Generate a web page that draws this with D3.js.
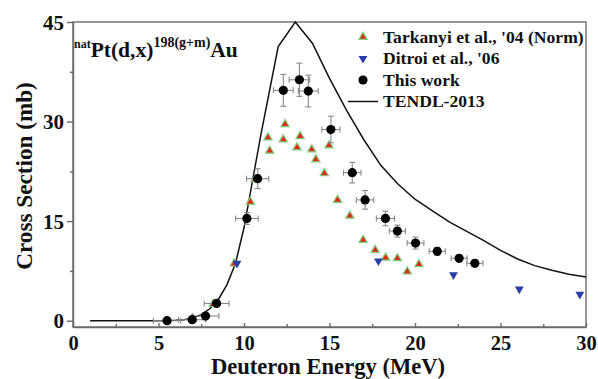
<!DOCTYPE html>
<html>
<head>
<meta charset="utf-8">
<script src="https://cdnjs.cloudflare.com/ajax/libs/d3/7.8.5/d3.min.js"></script>
<style>
  body { margin: 0; background: #fff; }
  svg { display: block; font-family: "Liberation Serif", "Times New Roman", serif; font-weight: bold; }
</style>
</head>
<body>
<div id="chart"></div>
<script>
// This work: energy, cross section, energy error, cross section error
const workE   = [5.5, 6.97, 7.75, 8.4, 10.17, 10.8, 12.3, 13.24, 13.76, 15.08, 16.33, 17.08, 18.27, 18.97, 20.03, 21.3, 22.58, 23.5];
const workXS  = [0.0, 0.15, 0.7, 2.6, 15.4, 21.4, 34.7, 36.3, 34.6, 28.8, 22.3, 18.2, 15.4, 13.5, 11.7, 10.45, 9.4, 8.64];
const workDE  = [0.8, 0.8, 0.78, 0.73, 0.66, 0.65, 0.58, 0.6, 0.58, 0.53, 0.51, 0.51, 0.53, 0.47, 0.49, 0.47, 0.47, 0.47];
const workDXS = [0.2, 0.2, 0.3, 0.4, 0.9, 1.5, 2.4, 2.5, 2.4, 2.0, 1.55, 1.4, 1.1, 0.9, 0.9, 0.6, 0.5, 0.5];

// Tarkanyi et al., '04 (Norm)
const tarE  = [7.0, 8.2, 9.43, 10.37, 10.65, 11.4, 11.5, 12.3, 12.4, 13.1, 13.28, 13.96, 14.2, 14.7, 14.97, 15.47, 16.19, 16.97, 17.67, 18.28, 18.97, 19.55, 20.23];
const tarXS = [0.3, 2.5, 8.6, 17.9, 21.3, 27.6, 25.6, 27.3, 29.6, 26.1, 27.8, 25.8, 24.3, 22.2, 26.4, 18.2, 15.8, 12.15, 10.65, 9.5, 9.4, 7.4, 8.5];

// Ditroi et al., '06
const ditE  = [9.59, 17.86, 22.25, 26.1, 29.64];
const ditXS = [8.64, 9.0, 6.9, 4.77, 3.97];

// TENDL-2013
const tendlE  = [1, 2, 3, 4, 5, 6, 6.5, 7, 7.5, 8, 8.5, 9, 9.5, 10, 11, 12, 13, 14, 15, 16, 17, 18, 19, 20, 21, 22, 23, 24, 25, 26, 27, 28, 29, 30];
const tendlXS = [0, 0, 0, 0, 0, 0.05, 0.15, 0.4, 0.9, 1.8, 3.2, 5.4, 8.6, 14.0, 28.2, 41.3, 45.0, 41.8, 36.5, 31.7, 27.3, 23.4, 20.6, 18.3, 16.6, 14.9, 13.5, 12.1, 10.6, 9.3, 8.3, 7.6, 7.0, 6.6];

const xTicks = [0, 5, 10, 15, 20, 25, 30];
const yTicks = [0, 15, 30, 45];

const width = 598, height = 379;
const margin = {top: 22, right: 12, bottom: 52, left: 73};
const innerW = width - margin.left - margin.right;
const innerH = height - margin.top - margin.bottom;

const svg = d3.select("#chart").append("svg")
  .attr("width", width)
  .attr("height", height);

const g = svg.append("g")
  .attr("transform", "translate(" + margin.left + "," + margin.top + ")");

const x = d3.scaleLinear().domain([0, 30]).range([0, innerW]);
const y = d3.scaleLinear().domain([-0.95, 45]).range([innerH, 0]);

const frameColor = "#6a6a6a";

// bottom axis, ticks pointing in
const xAxis = g.append("g")
  .attr("transform", "translate(0," + innerH + ")")
  .call(d3.axisBottom(x).tickValues(xTicks).tickSizeInner(-4).tickSizeOuter(0).tickPadding(8));
g.append("g")
  .attr("transform", "translate(0," + innerH + ")")
  .call(d3.axisBottom(x).tickValues(d3.range(2.5, 30, 5)).tickSizeInner(-3).tickSizeOuter(0).tickFormat(""))
  .call(a => a.select(".domain").remove())
  .call(a => a.selectAll("text").remove());

// left axis, ticks pointing out
const yAxis = g.append("g")
  .call(d3.axisLeft(y).tickValues(yTicks).tickSizeInner(6).tickSizeOuter(0).tickPadding(3));
g.append("g")
  .call(d3.axisLeft(y).tickValues([7.5, 22.5, 37.5]).tickSizeInner(3).tickSizeOuter(0).tickFormat(""))
  .call(a => a.select(".domain").remove())
  .call(a => a.selectAll("text").remove());

g.selectAll(".domain, .tick line").attr("stroke", frameColor).attr("stroke-width", 1.4);
xAxis.selectAll("text").attr("font-size", 20.5).attr("fill", "#111").attr("font-family", "Liberation Serif").attr("font-weight", "bold");
yAxis.selectAll("text").attr("font-size", 21).attr("fill", "#111").attr("font-family", "Liberation Serif").attr("font-weight", "bold").attr("dy", "0.34em");

// frame top and right
g.append("rect")
  .attr("width", innerW).attr("height", innerH)
  .attr("fill", "none").attr("stroke", frameColor).attr("stroke-width", 1.4);

// TENDL line
const line = d3.line().x((d, i) => x(tendlE[i])).y(d => y(d));
g.append("path")
  .datum(tendlXS)
  .attr("d", line)
  .attr("fill", "none")
  .attr("stroke", "#111")
  .attr("stroke-width", 1.5);

// Tarkanyi triangles
const triUp = d3.symbol().type(d3.symbolTriangle).size(30);
g.selectAll(".tar")
  .data(tarE)
  .enter()
  .append("path")
  .attr("d", triUp)
  .attr("transform", (d, i) => "translate(" + x(d) + "," + y(tarXS[i]) + ")")
  .attr("fill", "#e0281c")
  .attr("stroke", "#7fd07a")
  .attr("stroke-width", 1.2);

// Ditroi inverted triangles
const triDown = d3.symbol().type(d3.symbolTriangle).size(34);
g.selectAll(".dit")
  .data(ditE)
  .enter()
  .append("path")
  .attr("d", triDown)
  .attr("transform", (d, i) => "translate(" + x(d) + "," + y(ditXS[i]) + ") rotate(180)")
  .attr("fill", "#2a3ea8");

// error bars for this work
const errColor = "#8a8a8a";
const eb = g.selectAll(".err")
  .data(workE)
  .enter()
  .append("g");
eb.append("line")
  .attr("x1", (d, i) => x(d - workDE[i])).attr("x2", (d, i) => x(d + workDE[i]))
  .attr("y1", (d, i) => y(workXS[i])).attr("y2", (d, i) => y(workXS[i]));
eb.append("line")
  .attr("x1", d => x(d)).attr("x2", d => x(d))
  .attr("y1", (d, i) => y(workXS[i] - workDXS[i])).attr("y2", (d, i) => y(workXS[i] + workDXS[i]));
[-1, 1].forEach(s => {
  eb.append("line")
    .attr("x1", (d, i) => x(d + s * workDE[i])).attr("x2", (d, i) => x(d + s * workDE[i]))
    .attr("y1", (d, i) => y(workXS[i]) - 3).attr("y2", (d, i) => y(workXS[i]) + 3);
  eb.append("line")
    .attr("x1", d => x(d) - 3).attr("x2", d => x(d) + 3)
    .attr("y1", (d, i) => y(workXS[i] + s * workDXS[i])).attr("y2", (d, i) => y(workXS[i] + s * workDXS[i]));
});
eb.selectAll("line").attr("stroke", errColor).attr("stroke-width", 1.1);

g.selectAll(".dot")
  .data(workE)
  .enter()
  .append("circle")
  .attr("cx", d => x(d))
  .attr("cy", (d, i) => y(workXS[i]))
  .attr("r", 4.6)
  .attr("fill", "#000");

// legend
const legend = svg.append("g").attr("transform", "translate(363,37)");
const rowH = 21.5;
legend.append("path").attr("d", triUp).attr("fill", "#e0281c").attr("stroke", "#7fd07a").attr("stroke-width", 1.2);
legend.append("path").attr("d", triDown)
  .attr("transform", "translate(0," + rowH + ") rotate(180)").attr("fill", "#2a3ea8");
legend.append("circle").attr("cy", rowH * 2).attr("r", 4.6).attr("fill", "#000");
legend.append("line").attr("x1", -15).attr("x2", 15).attr("y1", rowH * 3).attr("y2", rowH * 3)
  .attr("stroke", "#111").attr("stroke-width", 1.5);
const labels = ["Tarkanyi et al., '04 (Norm)", "Ditroi et al., '06", "This work", "TENDL-2013"];
legend.selectAll("text")
  .data(labels)
  .enter()
  .append("text")
  .attr("x", 20)
  .attr("y", (d, i) => i * rowH + 5.5)
  .attr("font-size", 17.6)
  .attr("fill", "#111")
  .text(d => d);

// reaction title
const title = svg.append("text")
  .attr("x", 74)
  .attr("y", 57)
  .attr("fill", "#111");
title.append("tspan").attr("font-size", 12).attr("dy", -9).text("nat");
title.append("tspan").attr("font-size", 21.5).attr("dy", 9).text("Pt(d,x)");
title.append("tspan").attr("font-size", 14).attr("dy", -10).text("198(g+m)");
title.append("tspan").attr("font-size", 21.5).attr("dy", 10).text("Au");

// axis titles
svg.append("text")
  .attr("x", 328)
  .attr("y", 374)
  .attr("text-anchor", "middle")
  .attr("font-size", 22.6)
  .attr("fill", "#111")
  .text("Deuteron Energy (MeV)");

svg.append("text")
  .attr("transform", "translate(32,176) rotate(-90)")
  .attr("text-anchor", "middle")
  .attr("font-size", 23.2)
  .attr("fill", "#111")
  .text("Cross Section (mb)");
</script>
</body>
</html>
